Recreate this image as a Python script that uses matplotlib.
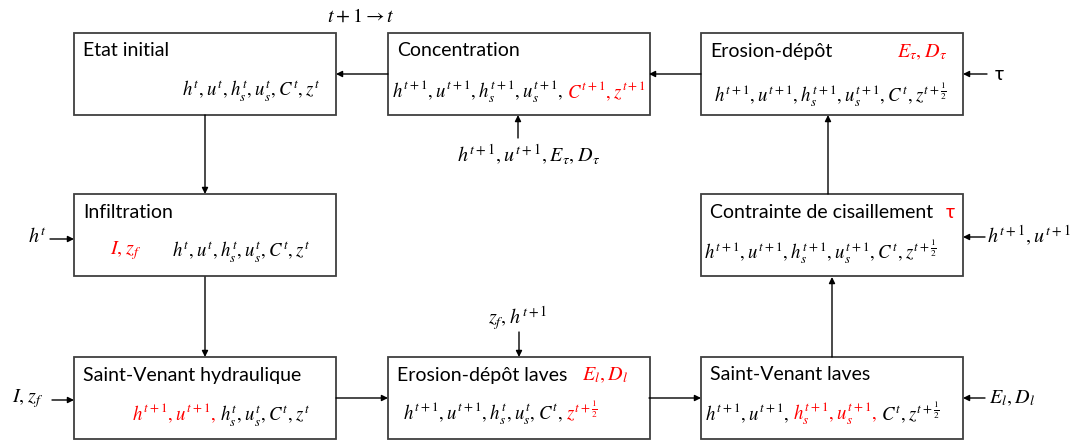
import matplotlib
matplotlib.use("Agg")
import matplotlib.pyplot as plt
from matplotlib.patches import Rectangle
from matplotlib.offsetbox import TextArea, HPacker, AnnotationBbox

plt.rcParams['mathtext.fontset'] = 'stix'
TXT_FONT = ['Lato', 'DejaVu Sans']
RED = '#ff0000'
EDGE = '#3f3f3f'

# ---- contenu des boites ----
titles = ['Etat initial', 'Concentration', 'Erosion-dépôt',
          'Infiltration', 'Contrainte de cisaillement',
          'Saint-Venant hydraulique', 'Erosion-dépôt laves', 'Saint-Venant laves']

# variables (morceau, rouge ?)
var_lines = [
    [(r'$h^t, u^t, h_s^t, u_s^t, C^t, z^t$', False)],
    [(r'$h^{t+1}, u^{t+1}, h_s^{t+1}, u_s^{t+1},$', False), (r'$C^{t+1}, z^{t+1}$', True)],
    [(r'$h^{t+1}, u^{t+1}, h_s^{t+1}, u_s^{t+1}, C^t, z^{t+\frac{1}{2}}$', False)],
    [(r'$h^t, u^t, h_s^t, u_s^t, C^t, z^t$', False)],
    [(r'$h^{t+1}, u^{t+1}, h_s^{t+1}, u_s^{t+1}, C^t, z^{t+\frac{1}{2}}$', False)],
    [(r'$h^{t+1}, u^{t+1},$', True), (r'$h_s^t, u_s^t, C^t, z^t$', False)],
    [(r'$h^{t+1}, u^{t+1}, h_s^t, u_s^t, C^t,$', False), (r'$z^{t+\frac{1}{2}}$', True)],
    [(r'$h^{t+1}, u^{t+1},$', False), (r'$h_s^{t+1}, u_s^{t+1},$', True), (r'$C^t, z^{t+\frac{1}{2}}$', False)],
]

# termes calcules (rouge) dans la boite
red_tags = ['', '', r'$E_\tau, D_\tau$', r'$I, z_f$', 'τ', '', r'$E_l, D_l$', '']

# entrees exterieures
ext_labels = [r'$t+1 \rightarrow t$', r'$h^{t+1}, u^{t+1}, E_\tau, D_\tau$', r'$h^t$',
              r'$I, z_f$', r'$z_f, h^{t+1}$', 'τ', r'$h^{t+1}, u^{t+1}$', r'$E_l, D_l$']

# ---- mise en page (pixels) ----
cols = [74, 388, 701]
rows = [33, 194, 357]
BW, BH = 262, 82
box_pos = [(cols[0], rows[0]), (cols[1], rows[0]), (cols[2], rows[0]),
           (cols[0], rows[1]), (cols[2], rows[1]),
           (cols[0], rows[2]), (cols[1], rows[2]), (cols[2], rows[2])]
title_dy = [18, 17, 19, 19, 19, 18, 18, 18]
var_pos = [('right', 320, 90), ('left', 392, 92), ('left', 714, 95),
           ('left', 172, 251), ('left', 704, 252), ('left', 132, 415),
           ('left', 403, 413), ('left', 705, 413)]
tag_pos = [None, None, (897, 52), (110, 251), (946, 212), None, (582, 375), None]
ext_pos = [(361, 16, 'center'), (529, 155, 'center'), (28, 237, 'left'),
           (12, 399, 'left'), (518, 318, 'center'), (995, 74, 'left'),
           (987, 236, 'left'), (989, 398, 'left')]

arrows = [((388, 74), (336, 74)), ((701, 74), (649, 74)), ((987, 74), (963, 74)),
          ((518, 138), (518, 115)), ((205, 115), (205, 194)), ((50, 239), (74, 239)),
          ((205, 277), (205, 357)), ((52, 400), (74, 400)), ((336, 398), (388, 398)),
          ((519, 332), (519, 357)), ((649, 398), (701, 398)), ((832, 357), (832, 277)),
          ((985, 398), (963, 398)), ((985, 237), (963, 237)), ((828, 194), (828, 115))]

MATH_SIZE = 13.5
TITLE_SIZE = 14


def spaced(s):
    # petite espace apres chaque virgule
    return s.replace(', ', r',\hspace{0.06}')


fig = plt.figure(figsize=(10.85, 4.41), dpi=100)
ax = fig.add_axes([0, 0, 1, 1])
ax.set_xlim(0, 1085)
ax.set_ylim(441, 0)
ax.axis('off')


def put_line(pieces, x, y, ha):
    kids = [TextArea(spaced(s), textprops=dict(color=RED if red else 'black', fontsize=MATH_SIZE))
            for s, red in pieces]
    pack = HPacker(children=kids, align='baseline', pad=0, sep=2.5)
    ab = AnnotationBbox(pack, (x, y), xycoords='data', frameon=False, pad=0,
                        box_alignment=(0 if ha == 'left' else (1 if ha == 'right' else 0.5), 0.5))
    ax.add_artist(ab)


for i, (x, y) in enumerate(box_pos):
    ax.add_patch(Rectangle((x, y), BW, BH, fill=False, edgecolor=EDGE, lw=1.3))
    ax.text(x + 9, y + title_dy[i], titles[i], fontsize=TITLE_SIZE, family=TXT_FONT,
            va='center', ha='left')
    ha, vx, vy = var_pos[i]
    put_line(var_lines[i], vx, vy, ha)
    if red_tags[i]:
        tx, ty = tag_pos[i]
        if red_tags[i].startswith('$'):
            ax.text(tx, ty, spaced(red_tags[i]), color=RED, fontsize=MATH_SIZE + 1,
                    va='center', ha='left')
        else:
            ax.text(tx, ty, red_tags[i], color=RED, fontsize=TITLE_SIZE, family=TXT_FONT,
                    va='center', ha='left')

for lab, (x, y, ha) in zip(ext_labels, ext_pos):
    if lab.startswith('$'):
        ax.text(x, y, spaced(lab), fontsize=MATH_SIZE + 1, va='center', ha=ha)
    else:
        ax.text(x, y, lab, fontsize=TITLE_SIZE, family=TXT_FONT, va='center', ha=ha)

for start, end in arrows:
    ax.annotate('', xy=end, xytext=start,
                arrowprops=dict(arrowstyle='-|>', color='black', lw=1,
                                shrinkA=0, shrinkB=0, mutation_scale=9))

fig.savefig('out.png', dpi=100)
